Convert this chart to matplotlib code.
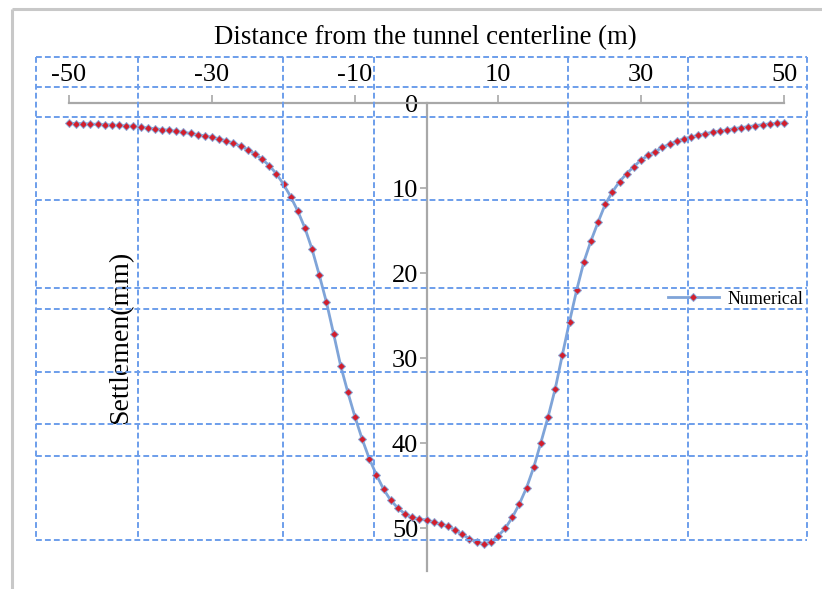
import matplotlib
matplotlib.use("Agg")
import matplotlib.pyplot as plt

plt.rcParams['font.family'] = ['Liberation Serif', 'DejaVu Serif']

# ---- data ----
distance = list(range(-50, 51))
settlement = [
    2.38, 2.41, 2.44, 2.47, 2.51, 2.55, 2.59, 2.64, 2.69, 2.75,   # -50..-41
    2.85, 2.93, 3.02, 3.12, 3.22, 3.33, 3.45, 3.58, 3.72, 3.87,   # -40..-31
    4.03, 4.22, 4.45, 4.73, 5.07, 5.48, 5.98, 6.60, 7.35, 8.30,   # -30..-21
    9.55, 11.0, 12.7, 14.7, 17.2, 20.2, 23.4, 27.1, 30.9, 34.0,   # -20..-11
    36.9, 39.5, 41.8, 43.7, 45.4, 46.7, 47.6, 48.3, 48.7, 48.9,   # -10..-1
    49.0,                                                         # 0
    49.3, 49.5, 49.7, 50.2, 50.7, 51.2, 51.6, 51.8, 51.6, 50.9,   # 1..10
    50.0, 48.7, 47.1, 45.2, 42.8, 39.9, 36.9, 33.6, 29.6, 25.7,   # 11..20
    22.0, 18.7, 16.2, 14.0, 11.9, 10.45, 9.23, 8.29, 7.47, 6.70,  # 21..30
    6.16, 5.71, 5.20, 4.85, 4.50, 4.20, 4.00, 3.80, 3.60, 3.44,   # 31..40
    3.29, 3.17, 3.01, 2.90, 2.78, 2.66, 2.54, 2.46, 2.39, 2.31,   # 41..50
]
x_ticks = [-50, -30, -10, 10, 30, 50]
y_ticks = [0, 10, 20, 30, 40, 50]
series_name = 'Numerical'
title_text = 'Distance from the tunnel centerline (m)'
ylabel_text = 'Settlemen(mm)'

W, H = 822, 589
fig = plt.figure(figsize=(W / 100, H / 100), dpi=100)
fig.patch.set_facecolor('white')

ax = fig.add_axes([69 / W, 1 - 571 / H, 715 / W, 468 / H])
ax.patch.set_alpha(0)
ax.set_xlim(-50, 50)
ax.set_ylim(55, 0)

ax.plot(distance, settlement, color='#7fa4d8', lw=2.0, marker='D', ms=4.5,
        mfc='#d21e2c', mec='#8aa8d8', mew=0.7, label=series_name,
        clip_on=False, zorder=3)

axis_gray = '#a8a8a8'
for s in ['bottom', 'right']:
    ax.spines[s].set_visible(False)
ax.spines['top'].set_color(axis_gray)
ax.spines['top'].set_linewidth(1.6)
ax.spines['left'].set_position(('data', 0))
ax.spines['left'].set_color(axis_gray)
ax.spines['left'].set_linewidth(1.6)

ax.xaxis.tick_top()
ax.set_xticks(x_ticks)
ax.set_xticklabels([str(v) for v in x_ticks])
ax.tick_params(axis='x', direction='out', length=6, width=1.2, pad=6,
               labelsize=19, color=axis_gray, labelcolor='black')
ax.set_yticks(y_ticks)
ax.set_yticklabels([str(v) for v in y_ticks])
ax.tick_params(axis='y', direction='out', length=5, width=1.2, pad=1,
               labelsize=19, color=axis_gray, labelcolor='black')

leg = ax.legend(loc='center left', bbox_to_anchor=(668 / W, 1 - 299 / H),
                bbox_transform=fig.transFigure, frameon=False, fontsize=13,
                handlelength=2.8, handletextpad=0.5, borderpad=0,
                borderaxespad=0)

fig.text(425 / W, 1 - 38 / H, title_text, ha='center', va='center', fontsize=19.3)
fig.text(121 / W, 1 - 337 / H, ylabel_text, rotation=90, ha='center',
         va='center', fontsize=20)

# overlay: dashed table-like grid and frame border (pixel coordinates)
ov = fig.add_axes([0, 0, 1, 1], zorder=5)
ov.set_xlim(0, W)
ov.set_ylim(H, 0)
ov.axis('off')
ov.patch.set_alpha(0)
grid_color = '#6d9eeb'
vx = [36, 138, 283, 374, 568, 688, 807]
hy = [57, 87, 117, 200, 288, 309, 372, 424, 456, 540]
ov.vlines(vx, 57, 540, colors=grid_color, lw=1.4, linestyles=(0, (3, 1.6)))
ov.hlines(hy, 36, 807, colors=grid_color, lw=1.4, linestyles=(0, (3, 1.6)))
ov.plot([12, W], [9, 9], color='#c8c8c8', lw=2.2, solid_capstyle='butt')
ov.plot([12, 12], [9, H], color='#c8c8c8', lw=2.2, solid_capstyle='butt')

fig.savefig('out.png', dpi=100)
